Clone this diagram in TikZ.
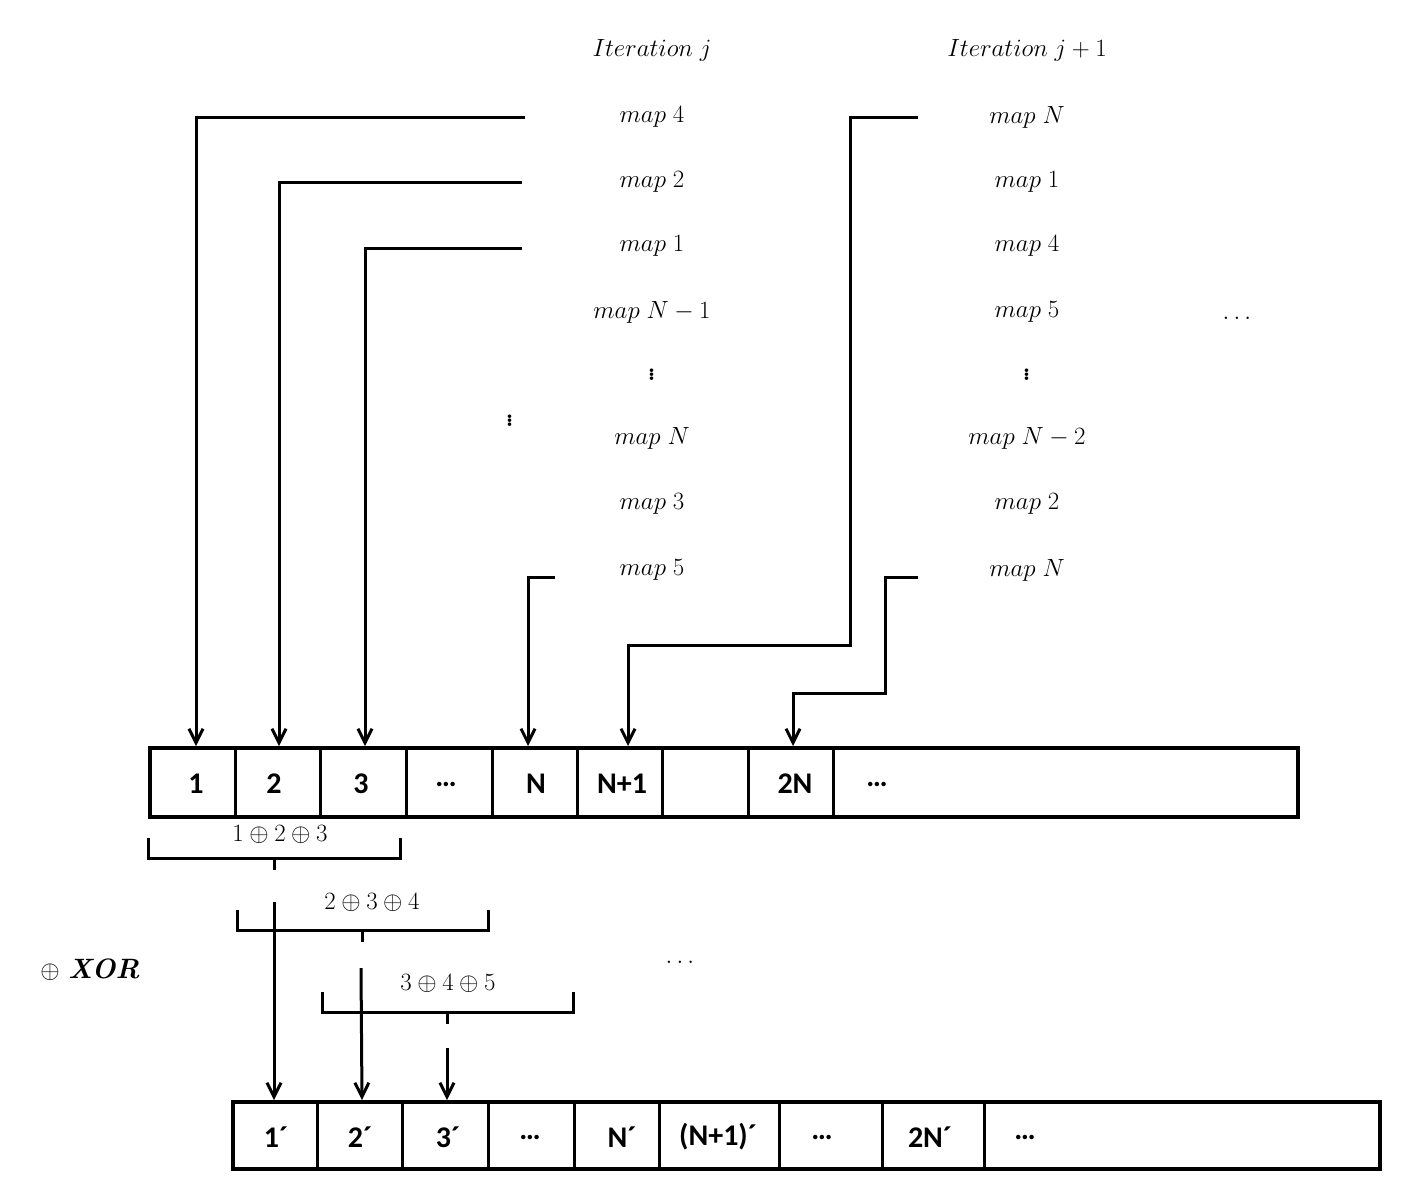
\documentclass[tikz,border=0pt]{standalone}
\usepackage{fontspec}
\newfontfamily\calfont{Carlito}
\usetikzlibrary{arrows.meta}
\begin{document}
\begin{tikzpicture}[x=1pt,y=-1pt,
 box/.style={draw,line width=4pt},
 cell/.style={font=\calfont\bfseries\fontsize{30}{30}\selectfont,anchor=center},
 mt/.style={font=\fontsize{44}{44}\selectfont,anchor=center},
 bl/.style={font=\fontsize{28}{28}\selectfont,anchor=center},
 arrs/.style={line width=3pt,-{Straight Barb[length=14pt,width=14pt]}},
 br/.style={line width=3pt}]
\useasboundingbox (0,0) rectangle (1410,1200);
% top box
\node[box,minimum width=1148pt,minimum height=69pt,anchor=north west,inner sep=0] (T) at (148,746) {};
\foreach \x in {235,320,406,492,577,662,748,833} \draw[line width=3pt] (\x,746) -- (\x,815);
\node[cell] (c1) at (196,784) {1};
\node[cell] (c2) at (274,784) {2};
\node[cell] (c3) at (361,784) {3};
\node[cell] at (446,784) {\textbf{\dots}};
\node[cell] (cN) at (536,784) {N};
\node[cell] (cN1) at (622,784) {N+1};
\node[cell] (c2N) at (795,784) {2N};
\node[cell] at (877,784) {\textbf{\dots}};
% bottom box
\node[box,minimum width=1147pt,minimum height=67pt,anchor=north west,inner sep=0] (B) at (231,1100) {};
\foreach \x in {317,402,488,574,659,779,882,984} \draw[line width=3pt] (\x,1100) -- (\x,1167);
\node[cell] (d1) at (276,1137) {1´};
\node[cell] (d2) at (360,1137) {2´};
\node[cell] (d3) at (448,1137) {3´};
\node[cell] at (530,1137) {\dots};
\node[cell] at (622,1137) {N´};
\node[cell] at (718,1137) {(N+1)´};
\node[cell] at (822,1137) {\dots};
\node[cell] at (930,1137) {2N´};
\node[cell] at (1025,1137) {\dots};
% column j
\node[mt] at (652,50) {$Iteration\; j$};
\node[mt] (a1) at (652,117) {$map\; 4$};
\node[mt] (a2) at (652,182) {$map\; 2$};
\node[mt] (a3) at (652,246) {$map\; 1$};
\node[mt] at (652,312) {$map\; N-1$};
\node[mt] at (652,372) {$\vdots$};
\node[mt] at (652,438) {$map\; N$};
\node[mt] at (652,504) {$map\; 3$};
\node[mt] (a8) at (652,570) {$map\; 5$};
\node[mt] at (510,418) {$\vdots$};
% column j+1
\node[mt] at (1027,50) {$Iteration\; j+1$};
\node[mt] (b1) at (1027,117) {$map\; N$};
\node[mt] at (1027,182) {$map\; 1$};
\node[mt] at (1027,246) {$map\; 4$};
\node[mt] at (1027,312) {$map\; 5$};
\node[mt] at (1027,372) {$\vdots$};
\node[mt] at (1027,438) {$map\; N-2$};
\node[mt] at (1027,504) {$map\; 2$};
\node[mt] (b8) at (1027,570) {$map\; N$};
\node[mt] at (1237,318) {$\dots$};
% arrows
\coordinate (s1) at (525,117); \coordinate (s2) at (522,182); \coordinate (s3) at (522,248);
\coordinate (s4) at (555,577); \coordinate (s5) at (918,117); \coordinate (s6) at (918,577);
\draw[arrs] (s1) -| (196,746);
\draw[arrs] (s2) -| (279,746);
\draw[arrs] (s3) -| (365,746);
\draw[arrs] (s4) -| (528,746);
\draw[arrs] (s5) -| (850,645) -| (628,746);
\draw[arrs] (s6) -| (885,693) -| (793,746);
% braces
\foreach \a/\b/\y in {148/400/838, 237/488/910, 322/573/992}{
 \draw[br] (\a,\y) -- (\a,{\y+20}) -- (\b,{\y+20}) -- (\b,\y);
 \draw[br] ({(\a+\b)/2},{\y+20}) -- ({(\a+\b)/2},{\y+32});
}
\node[bl] at (280,835) {$1\oplus 2\oplus 3$};
\node[bl] at (372,903) {$2\oplus 3\oplus 4$};
\node[bl] at (448,984) {$3\oplus 4\oplus 5$};
\coordinate (t1) at (274,902); \coordinate (t2) at (361,968); \coordinate (t3) at (447,1048);
\draw[arrs] (t1) -- (274,1100);
\draw[arrs] (t2) -- (362,1100);
\draw[arrs] (t3) -- (447,1100);
\node[bl] at (90,970) {$\oplus$ \textbf{\textit{XOR}}};
\node[mt] at (680,962) {$\dots$};
\end{tikzpicture}
\end{document}
